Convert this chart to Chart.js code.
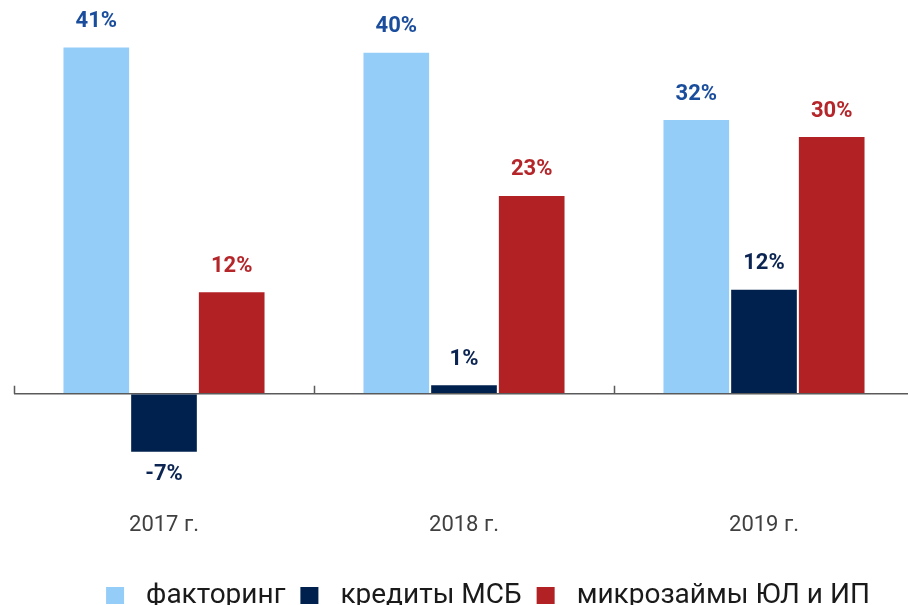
<!DOCTYPE html>
<html><head><meta charset="utf-8">
<script src="https://cdn.jsdelivr.net/npm/chart.js@4.4.1/dist/chart.umd.min.js"></script>
<style>
html,body{margin:0;padding:0;background:#fff;overflow:hidden;width:908px;height:605px;}
#wrap{position:relative;width:922px;height:605px;}
</style></head><body>
<div id="wrap"><canvas id="c"></canvas></div>
<script>
// ---- data ----
const categories = ['2017 г.', '2018 г.', '2019 г.'];
const seriesNames = ['факторинг', 'кредиты МСБ', 'микрозаймы ЮЛ и ИП'];
const factoring = [40.6, 40.0, 32.1];
const smeLoans = [-6.8, 1.0, 12.2];
const microloans = [11.9, 23.2, 30.1];

// ---- styles ----
const barColors = ['#95cdf9', '#00214e', '#b22225'];
const labelColors = ['#1a4d9c', '#0b2452', '#b5262a'];
const FONT = 'Roboto, "Noto Sans", sans-serif';

const valueLabels = {
  id: 'valueLabels',
  afterDatasetsDraw(chart) {
    const ctx = chart.ctx;
    ctx.save();
    ctx.font = 'bold 22px ' + FONT;
    ctx.textAlign = 'center';
    ctx.textBaseline = 'middle';
    chart.data.datasets.forEach((ds, di) => {
      const meta = chart.getDatasetMeta(di);
      meta.data.forEach((bar, i) => {
        const v = ds.data[i];
        const y = v >= 0 ? bar.y - 26 : bar.y + 23;
        ctx.fillStyle = labelColors[di];
        ctx.fillText(Math.round(v) + '%', bar.x, y);
      });
    });
    ctx.restore();
  }
};

const axisTicks = {
  id: 'axisTicks',
  afterDatasetsDraw(chart) {
    const ctx = chart.ctx;
    const xs = chart.scales.x, ys = chart.scales.y;
    const y0 = ys.getPixelForValue(0);
    const w = xs.getPixelForValue(1) - xs.getPixelForValue(0);
    const start = xs.getPixelForValue(0) - w / 2;
    ctx.save();
    ctx.strokeStyle = '#5a5a5a';
    ctx.lineWidth = 1.5;
    ctx.beginPath();
    for (let i = 0; i <= categories.length; i++) {
      const px = Math.round(start + i * w) + 0.5;
      ctx.moveTo(px, y0);
      ctx.lineTo(px, y0 - 8);
    }
    ctx.stroke();
    ctx.restore();
  }
};

const bottomLegend = {
  id: 'bottomLegend',
  afterDraw(chart) {
    const ctx = chart.ctx;
    ctx.save();
    ctx.font = '28px ' + FONT;
    const box = 18, boxH = 17, gapBoxText = 22, gapItems = 15;
    const widths = seriesNames.map(n => ctx.measureText(n).width);
    const total = widths.reduce((a, b) => a + b, 0) + seriesNames.length * (box + gapBoxText) + (seriesNames.length - 1) * gapItems;
    let x = 488 - total / 2;
    ctx.textBaseline = 'alphabetic';
    ctx.textAlign = 'left';
    seriesNames.forEach((n, i) => {
      ctx.fillStyle = barColors[i];
      ctx.fillRect(x, 587, box, boxH);
      ctx.fillStyle = '#1a1a1a';
      ctx.fillText(n, x + box + gapBoxText, 603);
      x += box + gapBoxText + widths[i] + gapItems;
    });
    ctx.restore();
  }
};

const seriesData = [factoring, smeLoans, microloans];

new Chart(document.getElementById('c'), {
  type: 'bar',
  data: {
    labels: categories,
    datasets: seriesData.map((d, i) => ({
      label: seriesNames[i],
      data: d,
      backgroundColor: barColors[i],
      categoryPercentage: 0.677,
      barPercentage: 0.97
    }))
  },
  options: {
    responsive: true,
    maintainAspectRatio: false,
    animation: false,
    layout: { padding: { left: 14, right: 8, top: 10, bottom: 41.5 } },
    plugins: { legend: { display: false }, tooltip: { enabled: false } },
    scales: {
      x: {
        grid: { display: false },
        border: { display: false },
        ticks: { color: '#404040', font: { family: FONT, size: 22 }, padding: 25 }
      },
      y: {
        min: -10, max: 45,
        ticks: { display: false, stepSize: 5 },
        border: { display: false },
        grid: {
          drawTicks: false,
          color: c => (c.tick && c.tick.value === 0) ? '#5a5a5a' : 'rgba(0,0,0,0)',
          lineWidth: 1.5
        }
      }
    }
  },
  plugins: [valueLabels, axisTicks, bottomLegend]
});
</script>
</body></html>
